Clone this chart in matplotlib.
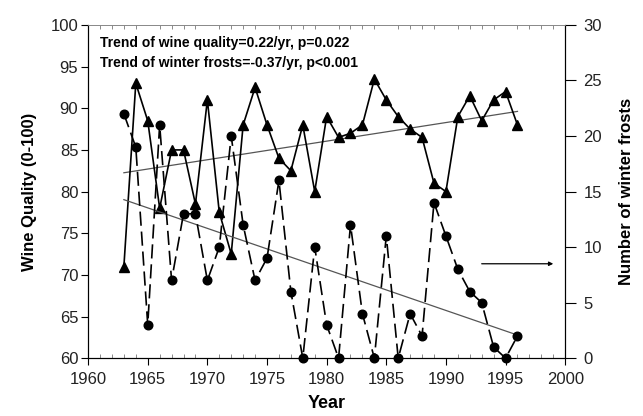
import matplotlib.pyplot as plt
import numpy as np
from matplotlib.ticker import MultipleLocator

plt.rcParams['font.family'] = ['Liberation Sans', 'DejaVu Sans']

# Data
years = np.arange(1963, 1997)
wine_quality = [71, 93, 88.5, 78, 85, 85, 78.5, 91, 77.5, 72.5,
                88, 92.5, 88, 84, 82.5, 88, 80, 89, 86.5, 87,
                88, 93.5, 91, 89, 87.5, 86.5, 81, 80, 89, 91.5,
                88.5, 91, 92, 88]
winter_frosts = [22, 19, 3, 21, 7, 13, 13, 7, 10, 20,
                 12, 7, 9, 16, 6, 0, 10, 3, 0, 12,
                 4, 0, 11, 0, 4, 2, 14, 11, 8, 6,
                 5, 1, 0, 2]

x_ticks = np.arange(1960, 2001, 5)
left_ticks = np.arange(60, 101, 5)
right_ticks = np.arange(0, 31, 5)

fig = plt.figure(figsize=(6.43, 4.16), dpi=100)
ax = fig.add_axes([0.137, 0.139, 0.742, 0.801])
ax2 = ax.twinx()

# Wine quality (left axis)
ax.plot(years, wine_quality, color='k', linewidth=1.2, marker='^',
        markersize=6.5, zorder=3, clip_on=False)
q_fit = np.polyfit(years, wine_quality, 1)
ax.plot(years[[0, -1]], np.polyval(q_fit, years[[0, -1]]),
        color='#555555', linewidth=0.9, zorder=2)

# Winter frosts (right axis)
ax2.plot(years, winter_frosts, color='k', linewidth=1.2, linestyle=(0, (8.5, 3.5)),
         marker='o', markersize=6.2, zorder=3, clip_on=False)
f_fit = np.polyfit(years, winter_frosts, 1)
ax2.plot(years[[0, -1]], np.polyval(f_fit, years[[0, -1]]),
         color='#555555', linewidth=0.9, zorder=2)

# arrow pointing to the right axis
ax2.annotate('', xy=(1999, 8.5), xytext=(1993, 8.5),
             arrowprops=dict(arrowstyle='-|>', color='k', lw=0.9,
                             mutation_scale=6, shrinkA=0, shrinkB=0))

ax.set_xlim(1960, 2000)
ax.set_ylim(60, 100)
ax2.set_ylim(0, 30)

ax.set_xticks(x_ticks)
ax.set_yticks(left_ticks)
ax2.set_yticks(right_ticks)
ax.xaxis.set_minor_locator(MultipleLocator(1))

ax.tick_params(axis='x', which='major', direction='out', length=5, pad=5,
               labelsize=12, top=False, labelcolor='#222222')
ax.tick_params(axis='x', which='minor', direction='in', length=3,
               top=True, bottom=True, color='#777777')
ax.tick_params(axis='y', which='major', direction='out', length=5, pad=2,
               labelsize=12, labelcolor='#222222')
ax2.tick_params(axis='y', which='major', direction='out', length=8, pad=5,
                labelsize=12, labelcolor='#222222')

for a in (ax, ax2):
    a.spines['top'].set_color('#888888')
    a.spines['top'].set_linewidth(0.6)

ax.set_xlabel('Year', fontsize=13, fontweight='bold', labelpad=6)
ax.set_ylabel('Wine Quality (0-100)', fontsize=12, fontweight='bold', labelpad=10)
ax2.set_ylabel('Number of winter frosts', fontsize=12, fontweight='bold', labelpad=12)

ax.text(0.025, 0.945, 'Trend of wine quality=0.22/yr, p=0.022',
        transform=ax.transAxes, fontsize=10, fontweight='bold', va='center')
ax.text(0.025, 0.885, 'Trend of winter frosts=-0.37/yr, p<0.001',
        transform=ax.transAxes, fontsize=10, fontweight='bold', va='center')

fig.savefig('out.png', dpi=100)
